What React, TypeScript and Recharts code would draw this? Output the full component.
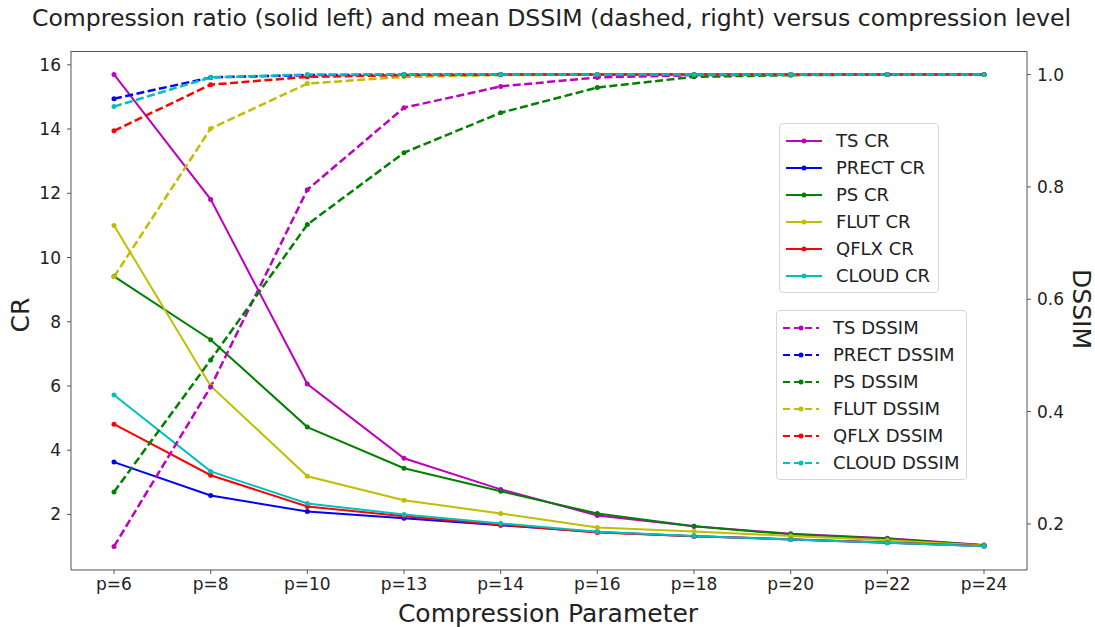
import { LineChart, Line, XAxis, YAxis } from "recharts";

const levels = ["p=6", "p=8", "p=10", "p=13", "p=14", "p=16", "p=18", "p=20", "p=22", "p=24"];

const tsCR = [15.7, 11.81, 6.06, 3.75, 2.78, 1.97, 1.63, 1.4, 1.26, 1.05];
const prectCR = [3.63, 2.59, 2.09, 1.88, 1.66, 1.45, 1.32, 1.22, 1.12, 1.02];
const psCR = [9.41, 7.44, 4.72, 3.44, 2.72, 2.03, 1.63, 1.38, 1.24, 1.04];
const flutCR = [11.0, 6.0, 3.19, 2.44, 2.03, 1.59, 1.47, 1.33, 1.2, 1.03];
const qflxCR = [4.81, 3.22, 2.25, 1.94, 1.68, 1.44, 1.32, 1.23, 1.13, 1.02];
const cloudCR = [5.72, 3.34, 2.34, 2.0, 1.72, 1.46, 1.33, 1.22, 1.12, 1.01];

const tsDSSIM = [0.16, 0.444, 0.795, 0.941, 0.979, 0.995, 0.999, 1.0, 1.0, 1.0];
const prectDSSIM = [0.957, 0.995, 0.999, 1.0, 1.0, 1.0, 1.0, 1.0, 1.0, 1.0];
const psDSSIM = [0.257, 0.492, 0.733, 0.861, 0.932, 0.977, 0.996, 0.999, 1.0, 1.0];
const flutDSSIM = [0.64, 0.904, 0.984, 0.996, 0.999, 1.0, 1.0, 1.0, 1.0, 1.0];
const qflxDSSIM = [0.9, 0.982, 0.996, 0.999, 1.0, 1.0, 1.0, 1.0, 1.0, 1.0];
const cloudDSSIM = [0.943, 0.995, 1.0, 1.0, 1.0, 1.0, 1.0, 1.0, 1.0, 1.0];

const crTicks = [2, 4, 6, 8, 10, 12, 14, 16];
const dssimTicks = [0.2, 0.4, 0.6, 0.8, 1.0];

const VARS = [
  { name: "TS", color: "#bf00bf", cr: tsCR, dssim: tsDSSIM },
  { name: "PRECT", color: "#0000ff", cr: prectCR, dssim: prectDSSIM },
  { name: "PS", color: "#008000", cr: psCR, dssim: psDSSIM },
  { name: "FLUT", color: "#bfbf00", cr: flutCR, dssim: flutDSSIM },
  { name: "QFLX", color: "#ff0000", cr: qflxCR, dssim: qflxDSSIM },
  { name: "CLOUD", color: "#00bfbf", cr: cloudCR, dssim: cloudDSSIM },
];

const data = levels.map((p, i) => {
  const row: Record<string, string | number> = { p };
  VARS.forEach((v) => {
    row[`${v.name}_cr`] = v.cr[i];
    row[`${v.name}_dssim`] = v.dssim[i];
  });
  return row;
});

const FONT = "DejaVu Sans, sans-serif";
const DASH = "8 3.5";
const tickStyle = { fill: "#222", fontSize: 17, fontFamily: FONT };
const labelStyle = { position: "absolute" as const, fontFamily: FONT, fontSize: 25, color: "#222", whiteSpace: "nowrap" as const };

function LegendBox({ left, top, width, suffix, dashed }: { left: number; top: number; width: number; suffix: string; dashed: boolean }) {
  return (
    <div style={{
      position: "absolute", left, top, width,
      border: "1px solid #d6d6d6", borderRadius: 4, background: "rgba(255,255,255,0.85)",
      padding: "3px 0", fontFamily: FONT, fontSize: 18, color: "#222",
    }}>
      {VARS.map((v) => (
        <div key={v.name} style={{ display: "flex", alignItems: "center", height: 27 }}>
          <svg width={50} height={10} style={{ marginLeft: 5, marginRight: 9 }}>
            <line x1={1} y1={5} x2={37} y2={5} stroke={v.color} strokeWidth={2} strokeDasharray={dashed ? "7 4" : undefined} />
            <circle cx={19} cy={5} r={2.5} fill={v.color} />
          </svg>
          <span style={{ marginLeft: -8 }}>{v.name} {suffix}</span>
        </div>
      ))}
    </div>
  );
}

export default function App() {
  return (
    <div style={{ position: "absolute", left: 0, top: 0, width: 1095, height: 627, background: "#fff", overflow: "hidden" }}>
      <div style={{
        position: "absolute", left: 4, top: 4, width: 1095, textAlign: "center",
        fontFamily: FONT, fontSize: 23.6, color: "#222", whiteSpace: "nowrap",
      }}>
        Compression ratio (solid left) and mean DSSIM (dashed, right) versus compression level
      </div>
      <LineChart width={1095} height={627} data={data} margin={{ top: 51, right: 8, left: 11, bottom: 27 }}>
        <XAxis dataKey="p" padding={{ left: 43, right: 43 }} tick={tickStyle} tickSize={4} tickMargin={4}
          stroke="#555" height={30} />
        <YAxis yAxisId="cr" domain={[0.27, 16.43]} ticks={crTicks} tick={tickStyle} tickSize={4} tickMargin={6}
          stroke="#555" width={60} allowDataOverflow />
        <YAxis yAxisId="dssim" orientation="right" domain={[0.118, 1.042]} ticks={dssimTicks} tick={tickStyle}
          tickFormatter={(v) => v.toFixed(1)} tickSize={4} tickMargin={6} stroke="#555" width={60} allowDataOverflow />
        {VARS.map((v) => (
          <Line key={`${v.name}_cr`} yAxisId="cr" dataKey={`${v.name}_cr`} stroke={v.color} strokeWidth={2}
            dot={{ r: 2.5, fill: v.color, stroke: v.color, strokeWidth: 0 }} type="linear" isAnimationActive={false} />
        ))}
        {VARS.map((v) => (
          <Line key={`${v.name}_dssim`} yAxisId="dssim" dataKey={`${v.name}_dssim`} stroke={v.color} strokeWidth={2.5}
            strokeDasharray={DASH} dot={{ r: 2.5, fill: v.color, stroke: v.color, strokeWidth: 0, strokeDasharray: "" }}
            type="linear" isAnimationActive={false} />
        ))}
      </LineChart>
      {/* full frame like matplotlib's spines */}
      <div style={{ position: "absolute", left: 71, top: 51, width: 956, height: 519, borderTop: "1px solid #555", pointerEvents: "none" }} />
      <div style={{ ...labelStyle, left: 548, top: 613, transform: "translate(-50%, -50%)" }}>Compression Parameter</div>
      <div style={{ ...labelStyle, left: 20, top: 315, transform: "translate(-50%, -50%) rotate(-90deg)" }}>CR</div>
      <div style={{ ...labelStyle, left: 1081, top: 309, transform: "translate(-50%, -50%) rotate(90deg)" }}>DSSIM</div>
      <LegendBox left={779} top={123} width={158} suffix="CR" dashed={false} />
      <LegendBox left={776} top={310} width={189} suffix="DSSIM" dashed={true} />
    </div>
  );
}
